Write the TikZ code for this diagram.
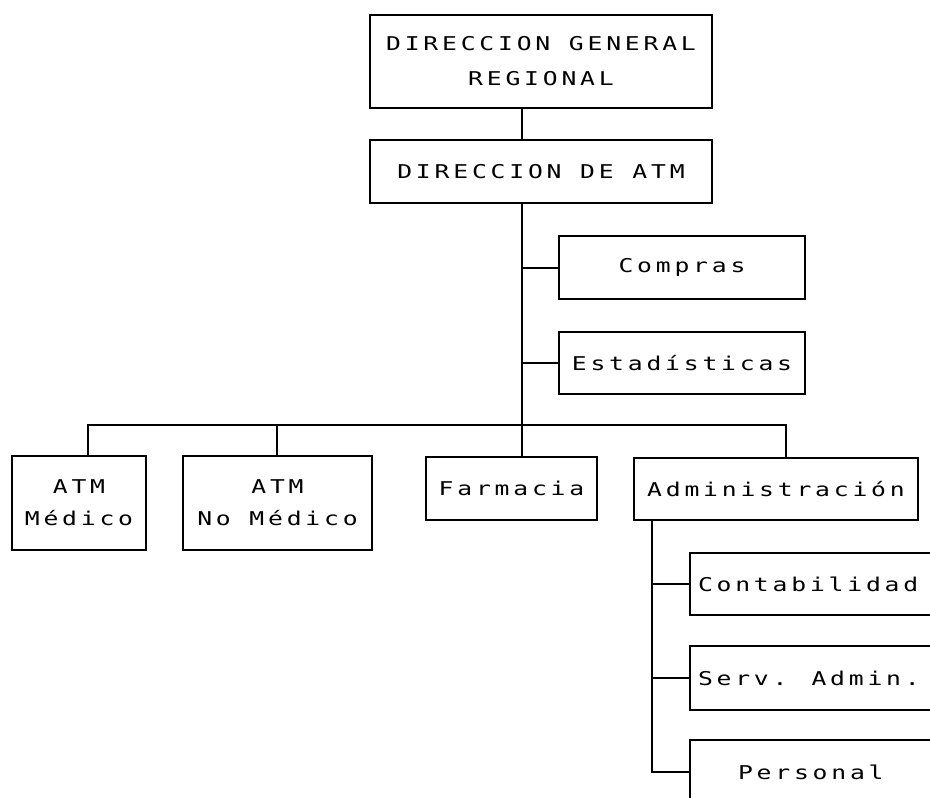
\documentclass[tikz,border=0pt]{standalone}
\usepackage{fontspec}
\newfontfamily\dotfont[FakeStretch=1.3, LetterSpace=20]{DejaVu Sans Mono}
\begin{document}
\begin{tikzpicture}[x=1pt,y=-1pt]
\tikzset{
  box/.style={draw, line width=2pt, inner sep=0pt, align=center,
    font=\dotfont\fontsize{19}{35}\selectfont},
  wire/.style={line width=2pt, line cap=rect}
}
\useasboundingbox (0,0) rectangle (930,798);
\clip (0,0) rectangle (930,798);
% nodes
\node[box, minimum width=342pt, minimum height=93pt] (dgr) at (541,61.5) {DIRECCION GENERAL\\REGIONAL};
\node[box, minimum width=342pt, minimum height=63pt] (dir) at (541,171.5) {DIRECCION DE ATM};
\node[box, minimum width=246pt, minimum height=63pt] (comp) at (682,267.5) {Compras};
\node[box, minimum width=246pt, minimum height=62pt] (est) at (682,363) {Estadísticas};
\node[box, minimum width=134pt, minimum height=94pt, font=\dotfont\fontsize{19}{32}\selectfont] (med) at (79,503) {ATM\\Médico};
\node[box, minimum width=189pt, minimum height=94pt, font=\dotfont\fontsize{19}{32}\selectfont] (nomed) at (277.5,503) {ATM\\No Médico};
\node[box, minimum width=171pt, minimum height=63pt] (farm) at (511.5,488.5) {Farmacia};
\node[box, minimum width=284pt, minimum height=62pt] (adm) at (776,489) {Administración};
\node[box, minimum width=270pt, minimum height=62pt, text width=254pt, inner xsep=8pt, align=left] (cont) at (825,584) {Contabilidad};
\node[box, minimum width=270pt, minimum height=64pt, text width=254pt, inner xsep=8pt, align=left] (serv) at (825,678) {Serv.\hspace*{24pt}Admin.};
\node[box, minimum width=270pt, minimum height=64pt, text width=254pt, inner xsep=8pt, align=left] (pers) at (825,772) {\hspace*{40pt}Personal};
% junction coordinates
\coordinate (t) at (522,0);
\coordinate (a) at (652,0);
\coordinate (d1) at (88,425);
\coordinate (d2) at (277,425);
\coordinate (d4) at (786,425);
% connectors
\draw[wire] (dgr.south -| t) -- (dir.north -| t);
\draw[wire] (dir.south -| t) -- (farm.north -| t);
\draw[wire] (t |- comp) -- (comp.west);
\draw[wire] (t |- est) -- (est.west);
\draw[wire] (d1) -- (d4);
\draw[wire] (d1) -- (med.north -| d1);
\draw[wire] (d2) -- (nomed.north -| d2);
\draw[wire] (d4) -- (adm.north -| d4);
\draw[wire] (adm.south -| a) -- (a |- pers) -- (pers.west);
\draw[wire] (a |- cont) -- (cont.west);
\draw[wire] (a |- serv) -- (serv.west);
\end{tikzpicture}
\end{document}
